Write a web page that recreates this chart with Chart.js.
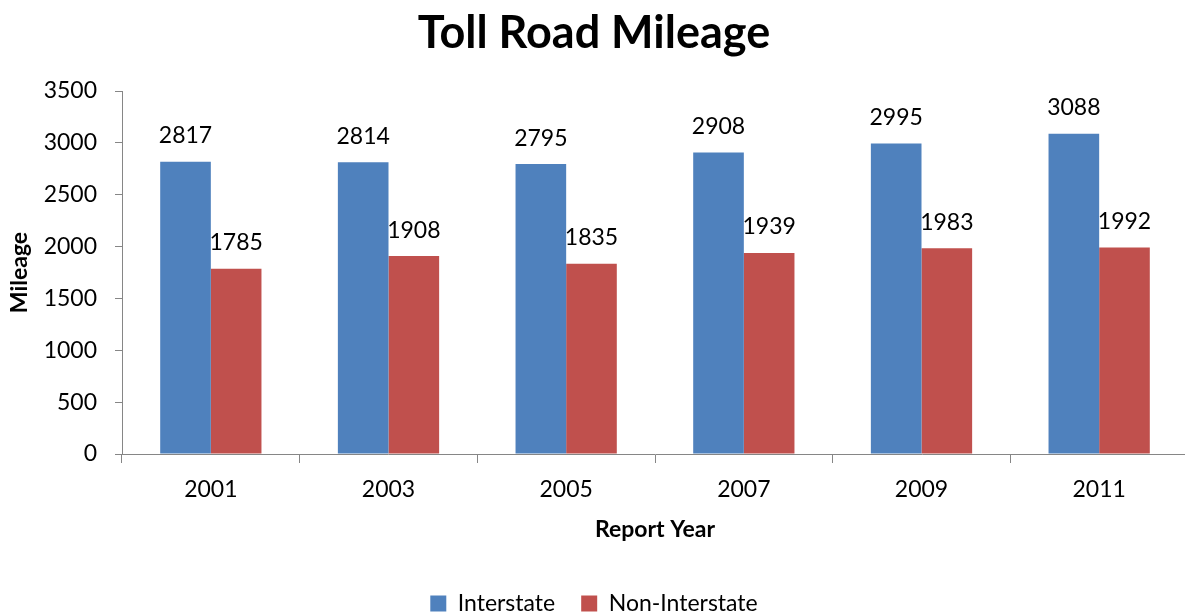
<!DOCTYPE html>
<html>
<head>
<meta charset="utf-8">
<script src="https://cdn.jsdelivr.net/npm/chart.js@4"></script>
<style>
  html, body { margin: 0; padding: 0; background: #fff; overflow: hidden; }
  #wrap { width: 1188px; height: 613px; }
</style>
</head>
<body>
<div id="wrap"><canvas id="c" width="1188" height="613"></canvas></div>
<script>
const categories = ['2001', '2003', '2005', '2007', '2009', '2011'];
const interstate = [2817, 2814, 2795, 2908, 2995, 3088];
const nonInterstate = [1785, 1908, 1835, 1939, 1983, 1992];
const yTicks = [0, 500, 1000, 1500, 2000, 2500, 3000, 3500];
const seriesNames = ['Interstate', 'Non-Interstate'];

const FONT = 'Lato, "Open Sans", sans-serif';
const AXIS_COLOR = '#868686';

const valueLabels = {
  id: 'valueLabels',
  afterDatasetsDraw(chart) {
    const ctx = chart.ctx;
    ctx.save();
    ctx.font = '23px ' + FONT;
    ctx.fillStyle = '#000';
    ctx.textAlign = 'center';
    ctx.textBaseline = 'middle';
    chart.data.datasets.forEach((ds, i) => {
      const meta = chart.getDatasetMeta(i);
      meta.data.forEach((bar, j) => {
        ctx.fillText(String(ds.data[j]), bar.x, bar.y - 26);
      });
    });
    ctx.restore();
  }
};

new Chart(document.getElementById('c'), {
  type: 'bar',
  data: {
    labels: categories,
    datasets: [
      { label: seriesNames[0], data: interstate, backgroundColor: '#4F81BD', borderWidth: 0 },
      { label: seriesNames[1], data: nonInterstate, backgroundColor: '#C0504D', borderWidth: 0 }
    ]
  },
  options: {
    responsive: false,
    devicePixelRatio: 1,
    animation: false,
    layout: { padding: 0 },
    datasets: { bar: { categoryPercentage: 0.57, barPercentage: 1.0 } },
    plugins: {
      title: {
        display: true,
        text: 'Toll Road Mileage',
        color: '#000',
        font: { family: FONT, size: 45, weight: 'bold' },
        padding: { top: 6, bottom: 31 }
      },
      legend: {
        position: 'bottom',
        maxHeight: 47,
        labels: {
          color: '#000',
          font: { family: FONT, size: 23 },
          boxWidth: 16,
          boxHeight: 16,
          padding: 26
        }
      },
      tooltip: { enabled: false }
    },
    scales: {
      x: {
        afterFit(scale) { scale.height = 112; },
        grid: { display: true, drawOnChartArea: false, drawTicks: true, tickLength: 9, color: AXIS_COLOR, offset: true },
        border: { display: true, color: AXIS_COLOR, width: 1 },
        ticks: { color: '#000', font: { family: FONT, size: 23 }, padding: 13 },
        title: {
          display: true,
          text: 'Report Year',
          color: '#000',
          font: { family: FONT, size: 23, weight: 'bold' },
          padding: { top: 0, bottom: 23 }
        }
      },
      y: {
        min: 0,
        max: 3500,
        afterFit(scale) { scale.width = 122; },
        afterBuildTicks(scale) { scale.ticks = yTicks.map(v => ({ value: v })); },
        grid: { display: true, drawOnChartArea: false, drawTicks: true, tickLength: 7, color: AXIS_COLOR },
        border: { display: true, color: AXIS_COLOR, width: 1 },
        ticks: {
          color: '#000',
          font: { family: FONT, size: 23 },
          padding: 18,
          callback: (v) => String(v)
        },
        title: {
          display: true,
          text: 'Mileage',
          color: '#000',
          font: { family: FONT, size: 23, weight: 'bold' },
          padding: { top: 6.2, bottom: 0 }
        }
      }
    }
  },
  plugins: [valueLabels]
});
</script>
</body>
</html>
